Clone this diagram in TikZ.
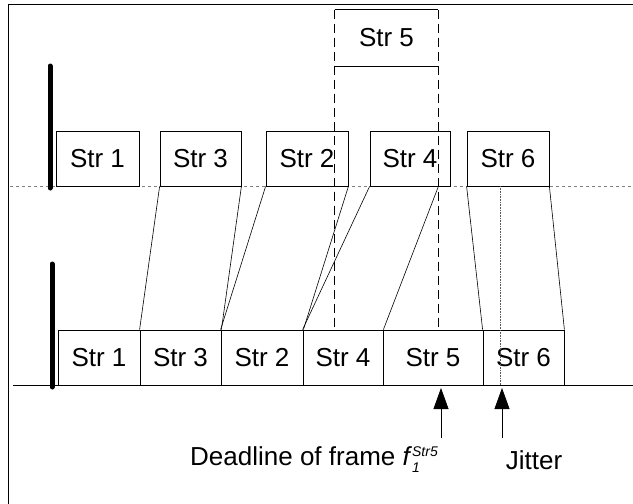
\documentclass[tikz,border=0pt]{standalone}
\usepackage{fontspec}
\setmainfont{Liberation Sans}
\usetikzlibrary{arrows.meta}

\tikzset{
  strbox/.style={draw, fill=white, line width=0.8pt, minimum height=55pt, inner sep=0pt},
  link/.style={line width=0.6pt},
  bar/.style={line width=5pt, line cap=round},
  marker/.style={line width=0.8pt, -{Triangle[length=21pt,width=15pt]}},
}
\newcommand{\idxfont}{\fontsize{14}{14}\selectfont\itshape}

\begin{document}
\begin{tikzpicture}[x=1pt, y=-1pt, font=\fontsize{26}{30}\selectfont]
  \useasboundingbox (0,0) rectangle (633,504);
  \draw[line width=1pt] (633,4) -- (8,4) -- (8,504);

  \node [strbox, draw=none, fill=none, minimum width=103pt, minimum height=56pt] (s5) at (386.5,38) {Str 5};
  \draw[line width=0.8pt] (s5.north west) -- (s5.north east);
  \draw[line width=0.8pt] (s5.south west) -- (s5.south east);

  \draw[gray, dashed, line width=0.6pt] (10,186) -- (633,186);
  \draw[bar] (50,66) -- (50,188);

  \node [strbox, minimum width=83pt] (t1) at (97.5,158.5) {Str 1};
  \node [strbox, minimum width=81pt] (t3) at (200.5,158.5) {Str 3};
  \node [strbox, minimum width=82pt] (t2) at (307,158.5) {Str 2};
  \node [strbox, minimum width=80pt] (t4) at (410,158.5) {Str 4};
  \node [strbox, minimum width=82pt] (t6) at (508,158.5) {Str 6};

  \draw[line width=1pt] (13,385) -- (633,385);
  \draw[bar] (52,264) -- (52,387);

  \node [strbox, minimum width=82pt] (b1) at (99,357.5) {Str 1};
  \node [strbox, minimum width=81pt] (b3) at (180.5,357.5) {Str 3};
  \node [strbox, minimum width=82pt] (b2) at (262,357.5) {Str 2};
  \node [strbox, minimum width=80pt] (b4) at (343,357.5) {Str 4};
  \node [strbox, minimum width=100pt] (b5) at (433,357.5) {Str 5};
  \node [strbox, minimum width=81pt] (b6) at (523.5,357.5) {Str 6};

  \draw[dashed, line width=0.8pt, dash pattern=on 9pt off 5pt] (s5.north west) -- (s5.west |- b4.north);
  \draw[dashed, line width=0.8pt, dash pattern=on 9pt off 5pt] (s5.north east) -- (s5.east |- b5.north);
  \draw[densely dotted, gray!70!black, line width=0.6pt] (500,186) -- (500,385);

  \coordinate (d4) at (s5.east |- t4.south);
  \draw[link] (t3.south west) -- (b3.north west);
  \draw[link] (t3.south east) -- (b3.north east);
  \draw[link] (t2.south west) -- (b2.north west);
  \draw[link] (t2.south east) -- (b2.north east);
  \draw[link] (t4.south west) -- (b4.north west);
  \draw[link] (d4) -- (b4.north east);
  \draw[link] (t6.south west) -- (b6.north west);
  \draw[link] (t6.south east) -- (b6.north east);

  \node (dl) at (314,460) {Deadline of frame \textit{f}\rlap{\raisebox{-7pt}{\idxfont 1}}\raisebox{9pt}{\idxfont Str5}};
  \node (jit) at (534,460) {Jitter};
  \coordinate (dlt) at (441,438);
  \coordinate (dlh) at (441,388);
  \coordinate (jitt) at (502,438);
  \coordinate (jith) at (502,388);
  \draw[marker] (dlt) -- (dlh);
  \draw[marker] (jitt) -- (jith);
\end{tikzpicture}
\end{document}
